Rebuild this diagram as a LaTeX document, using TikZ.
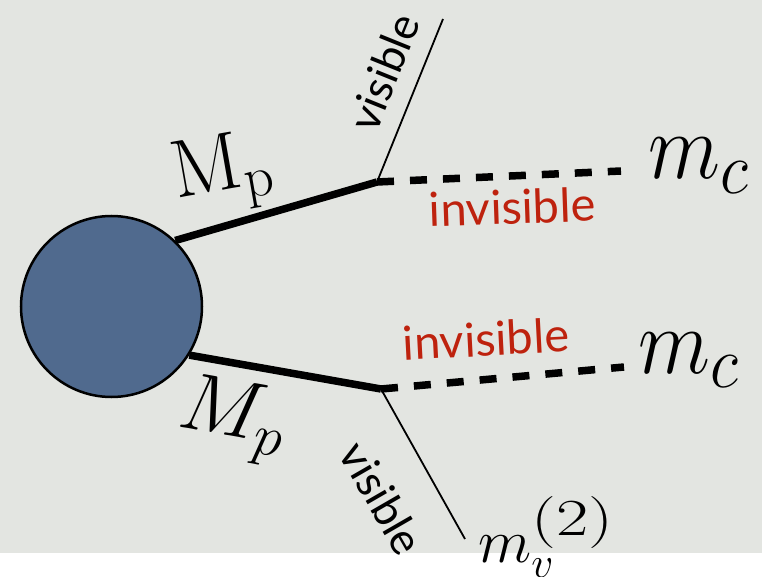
\RequirePackage{fix-cm}
\documentclass[tikz,border=0pt]{standalone}
\usepackage{fontspec}
\newfontfamily\lblfont{Lato}
\definecolor{bgcol}{RGB}{227,229,225}
\definecolor{blobcol}{RGB}{80,106,142}
\definecolor{invred}{RGB}{190,34,14}
\newcommand\subc{\hbox{\fontsize{66}{66}\selectfont$c$}}
\newcommand\supmv{\raisebox{4pt}{\scalebox{1.35}[1]{\fontsize{52}{52}\selectfont$(2)$}}}
\tikzset{
  thickline/.style={line width=7.5pt},
  dashline/.style={line width=7.5pt, dash pattern=on 17pt off 16pt},
  thinline/.style={line width=1.8pt},
  redlbl/.style={text=invred, font=\lblfont\fontsize{47}{50}\selectfont, inner sep=0pt},
  vislbl/.style={font=\lblfont\fontsize{44}{48}\selectfont, inner sep=0pt},
  mathlbl/.style={font=\fontsize{82}{90}\selectfont, inner sep=0pt},
  mcl/.style={font=\fontsize{84}{90}\selectfont, inner sep=0pt, yscale=1.12, anchor=base west},
  mathlblsmall/.style={font=\fontsize{62}{70}\selectfont, inner sep=0pt}
}
\begin{document}
\begin{tikzpicture}[x=1pt,y=-1pt]
\useasboundingbox (0,0) rectangle (762,577);
\fill[bgcol] (0,0) rectangle (762,553);
\node[circle, minimum size=181pt, inner sep=0pt, fill=blobcol, draw=black, line width=2.5pt] (c) at (111.5,306.5) {};
\coordinate (j1) at (377,182);
\coordinate (j2) at (381,389);
\coordinate (v1) at (443,19);
\coordinate (v2) at (465,539);
\coordinate (d1) at (621,171);
\coordinate (d2) at (624,367);
\draw[thickline] (c.46) -- (j1);
\draw[thickline] (c.-32) -- (j2);
\draw[dashline] (j1) -- (d1);
\draw[dashline] (j2) -- (d2);
\draw[thinline] (j1) -- (v1);
\draw[thinline] (j2) -- (v2);
\node[mathlbl, rotate=10] (mp1) at (223,174) {$\mathrm{M_p}$};
\node[mathlbl, rotate=-10] (mp2) at (232,420) {$M_p$};
\node[redlbl, rotate=2, anchor=base] (inv1) at (513,224) {invisible};
\node[redlbl, rotate=3, anchor=base] (inv2) at (487,356) {invisible};
\node[vislbl, rotate=68] (vis1) at (384,72) {visible};
\node[vislbl, rotate=-60] (vis2) at (382,498) {visible};
\node[mcl] (mc1) at (648,179) {$m_{\subc}$};
\node[mcl] (mc2) at (638,373) {$m_{\subc}$};
\node[mathlblsmall, anchor=base west] (mv) at (478,562) {$m_v^{\supmv}$};
\end{tikzpicture}
\end{document}
